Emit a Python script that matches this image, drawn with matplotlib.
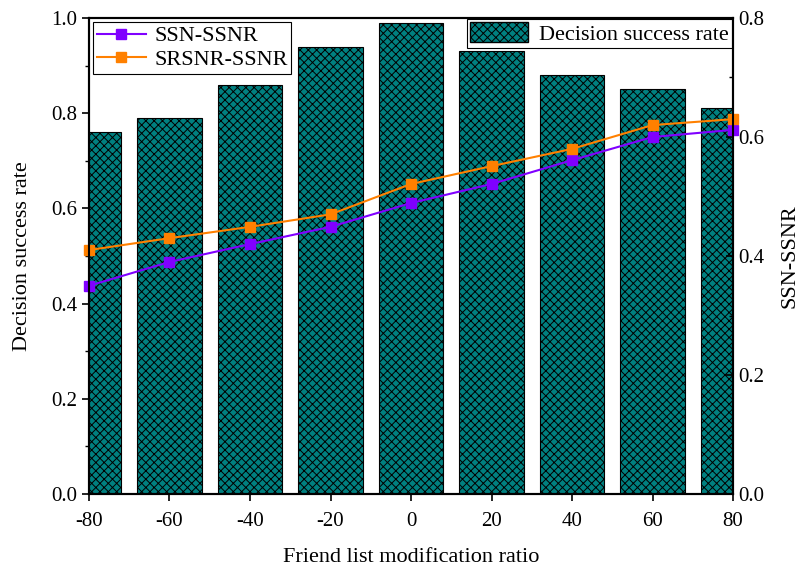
import numpy as np
import matplotlib.pyplot as plt
from matplotlib.patches import Patch

plt.rcParams['font.family'] = ['Liberation Serif', 'DejaVu Serif']
plt.rcParams['hatch.linewidth'] = 0.7
plt.rcParams['axes.unicode_minus'] = False

# данные
ratio = [-80, -60, -40, -20, 0, 20, 40, 60, 80]
success_rate = [0.76, 0.79, 0.86, 0.94, 0.99, 0.93, 0.88, 0.85, 0.81]
ssn_ssnr = [0.350, 0.390, 0.420, 0.449, 0.489, 0.521, 0.561, 0.600, 0.612]
srsnr_ssnr = [0.410, 0.430, 0.449, 0.470, 0.521, 0.551, 0.580, 0.620, 0.630]

fig = plt.figure(figsize=(7.99, 5.71), dpi=100)
ax = fig.add_axes([89 / 799, 1 - 494 / 571, (733 - 89) / 799, (494 - 18) / 571])

ax.bar(ratio, success_rate, width=16, color='#008080', edgecolor='black',
       hatch='xxxx', linewidth=0.8)
ax.set_xlim(-80, 80)
ax.set_ylim(0, 1.0)
ax.set_xticks(ratio)
ax.set_yticks(np.arange(0, 1.01, 0.2))
ax.set_yticks(np.arange(0.1, 1.0, 0.2), minor=True)
ax.yaxis.set_major_formatter(plt.FormatStrFormatter('%.1f'))
ax.tick_params(labelsize=15, width=1.2, length=5)
ax.tick_params(axis='x', pad=8)
ax.tick_params(which='minor', length=3, width=1)
ax.set_xlabel('Friend list modification ratio', fontsize=16, labelpad=12)
ax.set_ylabel('Decision success rate', fontsize=16, labelpad=14)
for s in ax.spines.values():
    s.set_linewidth(1.5)

bar_leg = ax.legend(handles=[Patch(facecolor='#008080', edgecolor='black', hatch='xxxx',
                                   label='Decision success rate')],
                    loc='upper right', fontsize=16, fancybox=False, edgecolor='black',
                    framealpha=1, borderaxespad=0.05, handlelength=2.6, handleheight=1.0,
                    borderpad=0.15, handletextpad=0.5)
bar_leg.get_frame().set_linewidth(0.8)

# правая ось
ax2 = ax.twinx()
ax2.plot(ratio, ssn_ssnr, color='#8000ff', marker='s', markersize=7.5, lw=1.5,
         label='SSN-SSNR')
ax2.plot(ratio, srsnr_ssnr, color='#ff8000', marker='s', markersize=7.5, lw=1.5,
         label='SRSNR-SSNR')
ax2.set_ylim(0, 0.8)
ax2.set_yticks(np.arange(0, 0.81, 0.2))
ax2.set_yticks(np.arange(0.1, 0.8, 0.2), minor=True)
ax2.yaxis.set_major_formatter(plt.FormatStrFormatter('%.1f'))
ax2.tick_params(labelsize=15, direction='in', width=1.2, length=5)
ax2.tick_params(which='minor', direction='in', length=3, width=1)
ax2.set_ylabel('SSN-SSNR', fontsize=16, labelpad=12)
for s in ax2.spines.values():
    s.set_linewidth(1.5)
for line in ax2.get_lines():
    line.set_clip_on(False)

line_leg = ax2.legend(loc='upper left', fontsize=16, fancybox=False, edgecolor='black',
                      framealpha=1, borderaxespad=0.2, handlelength=2.2,
                      borderpad=0.15, labelspacing=0.15, handletextpad=0.4)
line_leg.get_frame().set_linewidth(0.8)

plt.savefig('out.png', dpi=100)
